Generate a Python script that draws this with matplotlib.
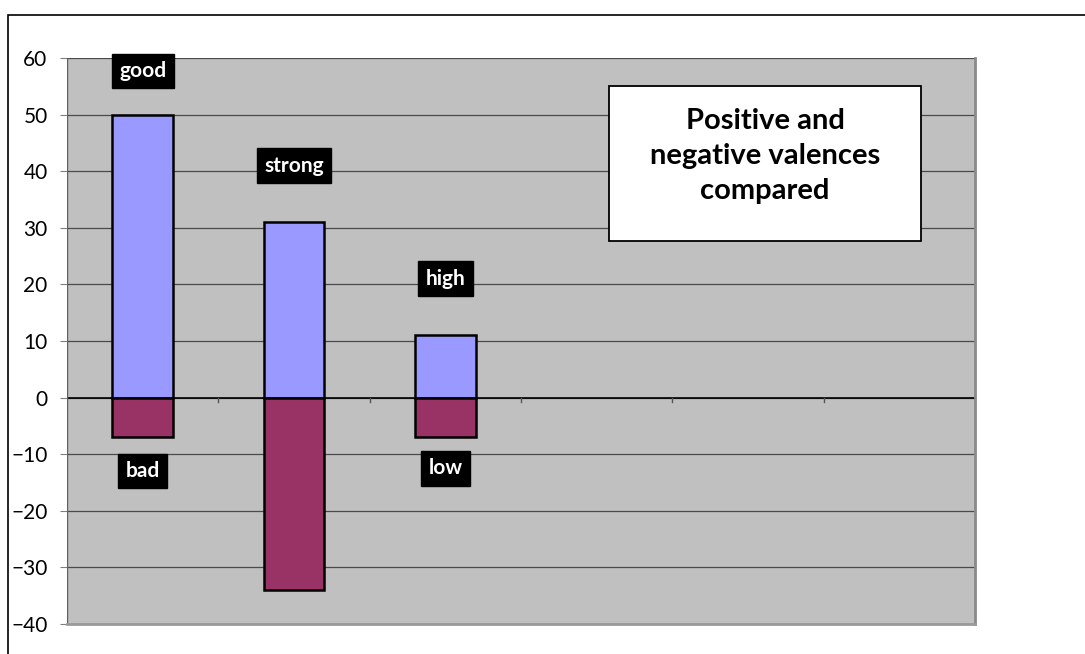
import matplotlib.pyplot as plt
from matplotlib.patches import Rectangle

plt.rcParams['font.family'] = ['Lato', 'DejaVu Sans']

# 数据
categories = ['good/bad', 'strong/weak', 'high/low', '', '', '']
positive = [50, 31, 11]
negative = [-7, -34, -7]
pos_labels = ['good', 'strong', 'high']
neg_labels = ['bad', '', 'low']
y_ticks = [-40, -30, -20, -10, 0, 10, 20, 30, 40, 50, 60]

# 标签相对柱端的偏移
pos_offset = [7.7, 10.0, 10.0]
neg_offset = [-6.0, 0.0, -5.5]

fig = plt.figure(figsize=(10.85, 6.54), dpi=100)
ax = fig.add_axes([0.0618, 0.0459, 0.8368, 0.8654])

# 外框
fig.patches.append(Rectangle((8 / 1085, -0.1), 1.2, 1.1 - 15 / 654,
                             transform=fig.transFigure, fill=False,
                             edgecolor='black', linewidth=1.2))

ax.set_facecolor('#C0C0C0')
ax.set_xlim(-0.5, len(categories) - 0.5)
ax.set_ylim(-40, 60)
ax.set_yticks(y_ticks)
ax.grid(axis='y', color='#4a4a4a', linewidth=0.9)
ax.set_axisbelow(True)

x = list(range(len(positive)))
ax.bar(x, positive, width=0.4, color='#9999FF', edgecolor='black', linewidth=1.8, zorder=3)
ax.bar(x, negative, width=0.4, color='#993366', edgecolor='black', linewidth=1.8, zorder=3)

# 零线和类别分隔刻度
ax.axhline(0, color='black', linewidth=1.2, zorder=2)
for b in range(1, len(categories)):
    ax.plot([b - 0.5, b - 0.5], [0, -0.8], color='#555555', linewidth=1.0, zorder=2)

ax.set_xticks([])
ax.tick_params(axis='y', length=5, color='#808080', labelsize=15, pad=9)
for side in ['top', 'left']:
    ax.spines[side].set_visible(False)
ax.spines['right'].set_color('#8a8a8a')
ax.spines['right'].set_linewidth(2.0)
ax.spines['bottom'].set_color('#9a9a9a')
ax.spines['bottom'].set_linewidth(2.0)
ax.axvline(-0.5, color='#606060', linewidth=1.0)

box = dict(boxstyle='square,pad=0.35', facecolor='black', edgecolor='black')
for i in x:
    if pos_labels[i]:
        ax.text(i, positive[i] + pos_offset[i], pos_labels[i], color='white',
                fontsize=15, fontweight='bold', ha='center', va='center', bbox=box, zorder=5)
    if neg_labels[i]:
        ax.text(i, negative[i] + neg_offset[i], neg_labels[i], color='white',
                fontsize=15, fontweight='bold', ha='center', va='center', bbox=box, zorder=5)

# 标题框
fig.patches.append(Rectangle((609 / 1085, 1 - 241 / 654), 312 / 1085, 155 / 654,
                             transform=fig.transFigure, facecolor='white',
                             edgecolor='black', linewidth=1.3, zorder=6))
fig.text(765 / 1085, 1 - 156 / 654, 'Positive and\nnegative valences\ncompared',
         ha='center', va='center', fontsize=21, fontweight='bold',
         linespacing=1.45, zorder=7)

fig.savefig('out.png', dpi=100)
